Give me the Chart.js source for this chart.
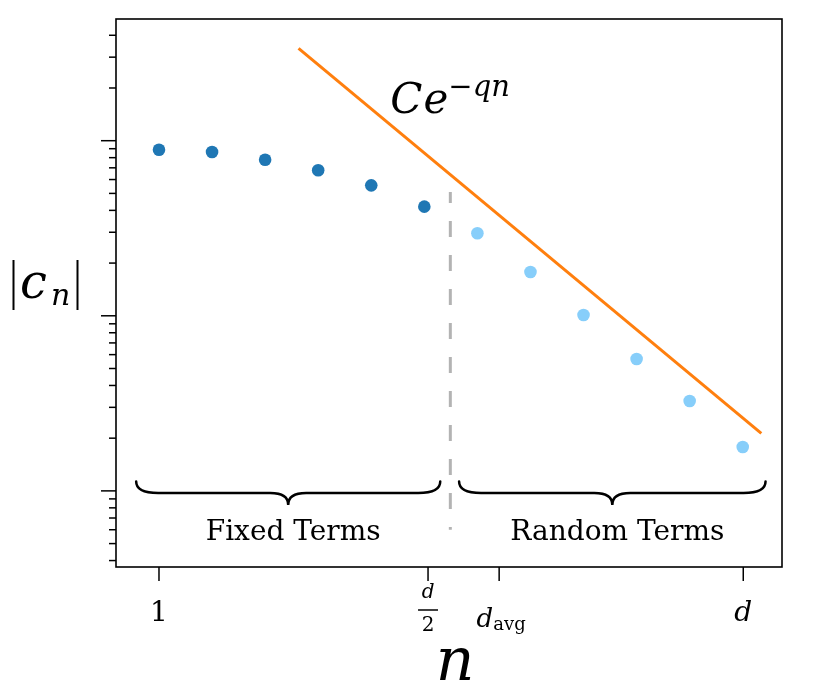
<!DOCTYPE html>
<html>
<head>
<meta charset="utf-8">
<script src="https://cdn.jsdelivr.net/npm/chart.js@4.4.0/dist/chart.umd.min.js"></script>
<style>
    html, body { margin: 0; padding: 0; background: #fff; }
    #wrap { width: 814px; height: 692px; }
</style>
</head>
<body>
<div id="wrap"><canvas id="coeffChart"></canvas></div>
<script>
// term index n and coefficient magnitudes |c_n|
const termIndex = [1, 2, 3, 4, 5, 6, 7, 8, 9, 10, 11, 12];
const fixedTerms = [0.888, 0.862, 0.779, 0.678, 0.556, 0.420];
const randomTerms = [0.296, 0.178, 0.101, 0.0567, 0.0326, 0.0178];

// envelope C e^{-qn}
const boundN = [3.63, 12.35];
const boundValues = [3.37, 0.0213];

// split between fixed and random terms
const splitN = [6.49, 6.49];
const splitValues = [0.509, 0.006];

// x ticks (1, d/2, d_avg, d)
const xTickValues = [1, 6.07, 7.41, 12.01];
const xTickLabels = ['1', 'd/2', 'd_avg', 'd'];

// braces under the two groups
const groupNames = ['Fixed Terms', 'Random Terms'];
const groupStart = [0.57, 6.655];
const groupEnd = [6.30, 12.43];
const groupLevel = 0.0113;

const formulaAt = { x: 5.36, y: 1.44 };
const xRange = [0.19, 12.74];
const yRange = [0.003675, 4.955];

const SERIF = '"DejaVu Serif", serif';

function toPoints(xs, ys) {
    return ys.map((y, i) => ({ x: xs[i], y: y }));
}

function drawLine(ctx, x0, y0, x1, y1) {
    ctx.beginPath();
    ctx.moveTo(x0, y0);
    ctx.lineTo(x1, y1);
    ctx.stroke();
}

function drawTickLabel(ctx, label, px, y) {
    ctx.textBaseline = 'alphabetic';
    if (label === '1') {
        ctx.font = '28px ' + SERIF;
        ctx.textAlign = 'center';
        ctx.fillText('1', px, y);
    } else if (label === 'd') {
        ctx.font = 'italic 28px ' + SERIF;
        ctx.textAlign = 'center';
        ctx.fillText('d', px, y);
    } else if (label === 'd/2') {
        ctx.textAlign = 'center';
        ctx.font = 'italic 20px ' + SERIF;
        ctx.fillText('d', px, y - 23);
        ctx.lineWidth = 1.5;
        drawLine(ctx, px - 10, y - 11, px + 10, y - 11);
        ctx.font = '20px ' + SERIF;
        ctx.fillText('2', px, y + 10);
    } else if (label === 'd_avg') {
        ctx.textAlign = 'left';
        ctx.font = 'italic 26px ' + SERIF;
        const wd = ctx.measureText('d').width;
        ctx.font = '18px ' + SERIF;
        const wa = ctx.measureText('avg').width;
        const x0 = px - (wd + wa) / 2 + 2;
        ctx.font = 'italic 26px ' + SERIF;
        ctx.fillText('d', x0, y + 6);
        ctx.font = '18px ' + SERIF;
        ctx.fillText('avg', x0 + wd, y + 9);
    }
}

function drawBrace(ctx, x0, x1, yTip) {
    const yLine = yTip + 11.5;
    const yCusp = yTip + 23.3;
    const xm = (x0 + x1) / 2;
    const r = 22;
    ctx.beginPath();
    ctx.moveTo(x0, yTip);
    ctx.quadraticCurveTo(x0, yLine, x0 + r, yLine);
    ctx.lineTo(xm - 18, yLine);
    ctx.quadraticCurveTo(xm, yLine, xm, yCusp);
    ctx.quadraticCurveTo(xm, yLine, xm + 18, yLine);
    ctx.lineTo(x1 - r, yLine);
    ctx.quadraticCurveTo(x1, yLine, x1, yTip);
    ctx.stroke();
}

const decorations = {
    id: 'decorations',
    afterDraw(chart) {
        const ctx = chart.ctx;
        const area = chart.chartArea;
        const xs = chart.scales.x;
        const ys = chart.scales.y;
        ctx.save();
        ctx.strokeStyle = '#000';
        ctx.fillStyle = '#000';

        // frame
        ctx.lineWidth = 1.6;
        ctx.strokeRect(area.left, area.top, area.right - area.left, area.bottom - area.top);

        // y ticks (log, major + minor, no labels)
        ctx.lineWidth = 1.5;
        for (let e = -3; e <= 1; e++) {
            for (let m = 1; m <= 9; m++) {
                const v = m * Math.pow(10, e);
                if (v < yRange[0] || v > yRange[1]) continue;
                const py = ys.getPixelForValue(v);
                const len = m === 1 ? 15 : 7;
                drawLine(ctx, area.left - len, py, area.left, py);
            }
        }

        // x ticks
        xTickValues.forEach((v, i) => {
            const px = xs.getPixelForValue(v);
            ctx.lineWidth = 1.5;
            drawLine(ctx, px, area.bottom, px, area.bottom + 14);
            drawTickLabel(ctx, xTickLabels[i], px, area.bottom + 54);
        });

        // braces + group names
        ctx.lineWidth = 2.5;
        ctx.lineCap = 'round';
        groupNames.forEach((name, i) => {
            const x0 = xs.getPixelForValue(groupStart[i]);
            const x1 = xs.getPixelForValue(groupEnd[i]);
            const yTip = ys.getPixelForValue(groupLevel);
            drawBrace(ctx, x0, x1, yTip);
            ctx.font = '28px ' + SERIF;
            ctx.textAlign = 'center';
            ctx.textBaseline = 'alphabetic';
            ctx.fillText(name, (x0 + x1) / 2 + 5, yTip + 58.5);
        });

        // formula C e^{-qn}
        let fx = xs.getPixelForValue(formulaAt.x);
        const fy = ys.getPixelForValue(formulaAt.y);
        ctx.textAlign = 'left';
        ctx.font = 'italic 42px ' + SERIF;
        ctx.fillText('C', fx, fy);
        fx += ctx.measureText('C').width + 1;
        ctx.fillText('e', fx, fy);
        fx += ctx.measureText('e').width;
        ctx.font = '29px ' + SERIF;
        ctx.fillText('\u2212', fx, fy - 17);
        fx += ctx.measureText('\u2212').width;
        ctx.font = 'italic 29px ' + SERIF;
        ctx.fillText('qn', fx, fy - 17);

        // y axis label |c_n|
        ctx.lineWidth = 2;
        ctx.lineCap = 'butt';
        drawLine(ctx, 13.5, 260, 13.5, 310);
        drawLine(ctx, 77.5, 260, 77.5, 310);
        ctx.font = 'italic 48px ' + SERIF;
        ctx.fillText('c', 20, 298);
        ctx.font = 'italic 30px ' + SERIF;
        ctx.fillText('n', 51, 305);

        // x axis label n
        ctx.font = 'italic 60px ' + SERIF;
        ctx.textAlign = 'center';
        ctx.fillText('n', 455, 680);

        ctx.restore();
    }
};

const ctx = document.getElementById('coeffChart').getContext('2d');
new Chart(ctx, {
    type: 'scatter',
    data: {
        datasets: [
            {
                label: 'fixed',
                data: toPoints(termIndex.slice(0, 6), fixedTerms),
                backgroundColor: '#1f77b4',
                borderWidth: 0,
                pointRadius: 6.3,
                pointHoverRadius: 6.3
            },
            {
                label: 'random',
                data: toPoints(termIndex.slice(6), randomTerms),
                backgroundColor: '#87cefa',
                borderWidth: 0,
                pointRadius: 6.3,
                pointHoverRadius: 6.3
            },
            {
                label: 'bound',
                data: toPoints(boundN, boundValues),
                showLine: true,
                borderColor: '#ff7f0e',
                borderWidth: 3,
                pointRadius: 0
            },
            {
                label: 'split',
                data: toPoints(splitN, splitValues),
                showLine: true,
                borderColor: '#b3b3b3',
                borderWidth: 3,
                borderDash: [16, 18],
                borderDashOffset: 5,
                pointRadius: 0
            }
        ]
    },
    options: {
        responsive: true,
        maintainAspectRatio: false,
        animation: false,
        layout: {
            padding: { left: 116, top: 19, right: 32, bottom: 125 }
        },
        scales: {
            x: {
                type: 'linear',
                min: xRange[0],
                max: xRange[1],
                display: false
            },
            y: {
                type: 'logarithmic',
                min: yRange[0],
                max: yRange[1],
                display: false
            }
        },
        plugins: {
            legend: { display: false },
            tooltip: { enabled: false }
        }
    },
    plugins: [decorations]
});
</script>
</body>
</html>
